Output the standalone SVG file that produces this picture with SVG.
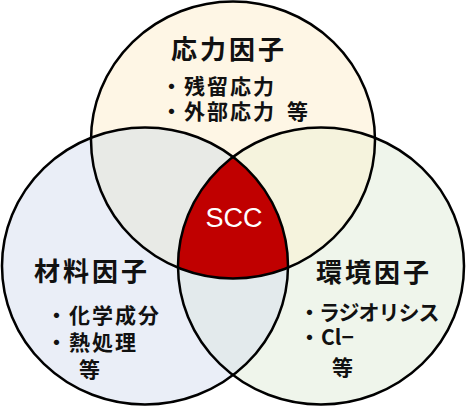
<svg xmlns="http://www.w3.org/2000/svg" xmlns:xlink="http://www.w3.org/1999/xlink" width="467" height="406" viewBox="0 0 467 406">
<style>
.ring{fill:none;stroke:#000;stroke-width:2.5}
.title{font-family:"Noto Sans CJK JP","Noto Sans",sans-serif;font-weight:bold;font-size:26px;letter-spacing:3px;fill:#111}
.item{font-family:"Noto Sans CJK JP","Noto Sans",sans-serif;font-weight:bold;font-size:21px;letter-spacing:2px;fill:#111}
.scc{font-family:"Liberation Sans",Arial,sans-serif;font-size:27px;fill:#fff}
</style>
<defs>
<ellipse id="eTop" cx="233" cy="140" rx="142" ry="138.5"/>
<ellipse id="eLeft" cx="145" cy="266" rx="143" ry="138.5"/>
<ellipse id="eRight" cx="321" cy="266" rx="143" ry="138.5"/>
<clipPath id="cTop"><use xlink:href="#eTop"/></clipPath>
<clipPath id="cLeft"><use xlink:href="#eLeft"/></clipPath>
<clipPath id="cRight"><use xlink:href="#eRight"/></clipPath>
</defs>
<g id="fills">
<use xlink:href="#eTop" fill="#FEF6E5"/>
<use xlink:href="#eLeft" fill="#EAEEF7"/>
<use xlink:href="#eRight" fill="#EFF5EB"/>
<g clip-path="url(#cTop)"><use xlink:href="#eLeft" fill="#E8EAE6"/></g>
<g clip-path="url(#cTop)"><use xlink:href="#eRight" fill="#F5F3DD"/></g>
<g clip-path="url(#cLeft)"><use xlink:href="#eRight" fill="#E3EAEC"/></g>
<g clip-path="url(#cTop)"><g clip-path="url(#cLeft)"><use xlink:href="#eRight" fill="#C00000"/></g></g>
</g>
<g id="stress">
<use xlink:href="#eTop" class="ring"/>
<text class="title" x="171" y="59">応力因子</text>
<text class="item" x="161" y="94">・残留応力</text>
<text class="item" x="161" y="119">・外部応力<tspan x="287">等</tspan></text>
</g>
<g id="material">
<use xlink:href="#eLeft" class="ring"/>
<text class="title" x="34" y="281">材料因子</text>
<text class="item" x="46" y="323">・化学成分</text>
<text class="item" x="46" y="350">・熱処理</text>
<text class="item" x="79" y="377">等</text>
</g>
<g id="environment">
<use xlink:href="#eRight" class="ring"/>
<text class="title" x="316" y="282">環境因子</text>
<text class="item" x="299" y="320" style="letter-spacing:-1px">・ラジオリシス</text>
<text class="item" x="299" y="345" style="letter-spacing:0px">・<tspan x="321">Cl−</tspan></text>
<text class="item" x="332" y="375">等</text>
</g>
<g id="scc">
<text class="scc" x="234" y="227" text-anchor="middle">SCC</text>
</g>
<g id="connectors"/>
</svg>
